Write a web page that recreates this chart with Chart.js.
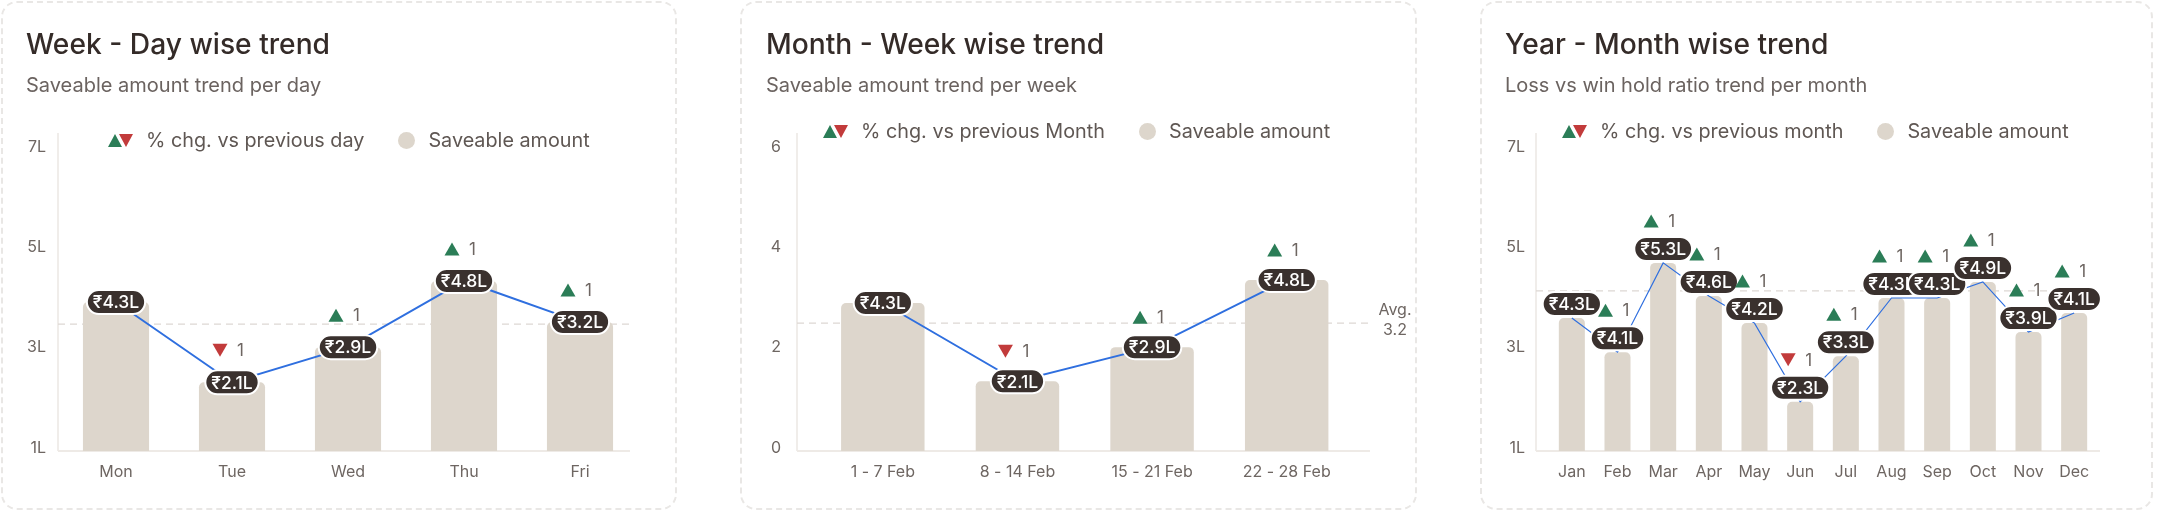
<!DOCTYPE html>
<html lang="en">
<head>
<meta charset="UTF-8">
<title>Saveable amount trends</title>
<script src="https://cdn.jsdelivr.net/npm/chart.js"></script>
<style>
    body {
        margin: 0;
        width: 2159px;
        height: 514px;
        position: relative;
        overflow: hidden;
        background: #fff;
        font-family: Inter, "Noto Sans", sans-serif;
    }

    /* dashed cards */
    .card {
        position: absolute;
        top: 1px;
        height: 509px;
        box-sizing: border-box;
        border: 2px dashed #e9e7e5;
        border-radius: 16px;
    }

    .title {
        position: absolute;
        top: 27px;
        font-size: 28.2px;
        font-weight: 500;
        line-height: 34px;
        color: #342b28;
        white-space: nowrap;
    }

    .subtitle {
        position: absolute;
        top: 73px;
        font-size: 20px;
        line-height: 24px;
        color: #6b6360;
        white-space: nowrap;
    }

    /* legend */
    .legend {
        position: absolute;
        display: flex;
        align-items: center;
        height: 24px;
        font-size: 19.8px;
        color: #5f5753;
        white-space: nowrap;
    }
    .tri { width: 0; height: 0; border-left: 7.5px solid transparent; border-right: 7.5px solid transparent; }
    .tri.up { border-bottom: 13px solid #2b7d57; }
    .tri.down { border-top: 13px solid #c23b3b; margin-left: -3px; }
    .legend .txt { margin-left: 13px; }
    .dot { width: 17px; height: 17px; border-radius: 50%; background: #ddd6cc; margin: 0 13px 0 34px; }

    .chart-box { position: absolute; top: 0; width: 680px; height: 514px; }
</style>
</head>
<body>

<div class="card" style="left:1px; width:676px;"></div>
<div class="card" style="left:740px; width:677px;"></div>
<div class="card" style="left:1480px; width:673px;"></div>

<div class="chart-box" style="left:0px;"><canvas id="weekChart" width="680" height="514"></canvas></div>
<div class="chart-box" style="left:740px;"><canvas id="monthChart" width="680" height="514"></canvas></div>
<div class="chart-box" style="left:1478px;"><canvas id="yearChart" width="680" height="514"></canvas></div>

<div class="title" style="left:26px;">Week - Day wise trend</div>
<div class="subtitle" style="left:26px;">Saveable amount trend per day</div>
<div class="legend" style="left:108px; top:128px;">
    <span class="tri up"></span><span class="tri down"></span>
    <span class="txt">% chg. vs previous day</span>
    <span class="dot"></span><span>Saveable amount</span>
</div>

<div class="title" style="left:766px;">Month - Week wise trend</div>
<div class="subtitle" style="left:766px;">Saveable amount trend per week</div>
<div class="legend" style="left:823px; top:119px;">
    <span class="tri up"></span><span class="tri down"></span>
    <span class="txt">% chg. vs previous Month</span>
    <span class="dot"></span><span>Saveable amount</span>
</div>

<div class="title" style="left:1505px;">Year - Month wise trend</div>
<div class="subtitle" style="left:1505px;">Loss vs win hold ratio trend per month</div>
<div class="legend" style="left:1562px; top:119px;">
    <span class="tri up"></span><span class="tri down"></span>
    <span class="txt">% chg. vs previous month</span>
    <span class="dot"></span><span>Saveable amount</span>
</div>

<script>
    // ---- week / day ----
    const weekDays = ['Mon', 'Tue', 'Wed', 'Thu', 'Fri'];
    const weekAmount = [3.97, 2.37, 3.07, 4.39, 3.57];
    const weekPill = ['₹4.3L', '₹2.1L', '₹2.9L', '₹4.8L', '₹3.2L'];
    const weekDir = [null, 'down', 'up', 'up', 'up'];
    const weekChange = [null, 1, 1, 1, 1];
    const weekAvg = 3.53;
    const weekTicks = ['1L', '3L', '5L', '7L'];

    // ---- month / week ----
    const monthWeeks = ['1 - 7 Feb', '8 - 14 Feb', '15 - 21 Feb', '22 - 28 Feb'];
    const monthAmount = [2.95, 1.39, 2.07, 3.41];
    const monthPill = ['₹4.3L', '₹2.1L', '₹2.9L', '₹4.8L'];
    const monthDir = [null, 'down', 'up', 'up'];
    const monthChange = [null, 1, 1, 1];
    const monthAvg = 2.55;
    const monthAvgText = ['Avg.', '3.2'];
    const monthTicks = ['0', '2', '4', '6'];

    // ---- year / month ----
    const yearMonths = ['Jan', 'Feb', 'Mar', 'Apr', 'May', 'Jun', 'Jul', 'Aug', 'Sep', 'Oct', 'Nov', 'Dec'];
    const yearAmount = [3.65, 2.97, 4.75, 4.09, 3.55, 1.98, 2.89, 4.05, 4.05, 4.37, 3.37, 3.75];
    const yearPill = ['₹4.3L', '₹4.1L', '₹5.3L', '₹4.6L', '₹4.2L', '₹2.3L', '₹3.3L', '₹4.3L', '₹4.3L', '₹4.9L', '₹3.9L', '₹4.1L'];
    const yearDir = [null, 'up', 'up', 'up', 'up', 'down', 'up', 'up', 'up', 'up', 'up', 'up'];
    const yearChange = [null, 1, 1, 1, 1, 1, 1, 1, 1, 1, 1, 1];
    const yearAvg = 4.19;
    const yearTicks = ['1L', '3L', '5L', '7L'];

    const FONT = 'Inter, "Noto Sans", sans-serif';
    const GREY = '#6e6662';

    // axis frame, average line, value pills and change markers
    const trendMarks = {
        id: 'trendMarks',
        beforeDatasetsDraw(chart, args, o) {
            const ctx = chart.ctx;
            const area = chart.chartArea;
            const y = chart.scales.y;
            ctx.save();
            ctx.strokeStyle = '#ebe7e3';
            ctx.lineWidth = 1.5;
            ctx.beginPath();
            ctx.moveTo(o.axisX, 133);
            ctx.lineTo(o.axisX, area.bottom);
            ctx.stroke();
            ctx.strokeStyle = '#eeeae6';
            ctx.lineWidth = 2;
            ctx.beginPath();
            ctx.moveTo(o.axisX, area.bottom);
            ctx.lineTo(o.lineRight, area.bottom);
            ctx.stroke();

            const ay = y.getPixelForValue(o.avg);
            ctx.strokeStyle = '#ddd8d3';
            ctx.lineWidth = 1.2;
            ctx.setLineDash([7, 5]);
            ctx.beginPath();
            ctx.moveTo(o.axisX, ay);
            ctx.lineTo(o.lineRight, ay);
            ctx.stroke();
            ctx.restore();
        },
        afterDatasetsDraw(chart, args, o) {
            const ctx = chart.ctx;
            const x = chart.scales.x;
            const y = chart.scales.y;
            const values = chart.data.datasets[0].data;
            ctx.save();
            values.forEach((v, i) => {
                const cx = x.getPixelForValue(i);
                const cy = y.getPixelForValue(v) - o.pillLift;

                // pill
                ctx.font = '500 17.5px ' + FONT;
                const w = ctx.measureText(o.pills[i]).width + 12;
                const h = 24;
                ctx.beginPath();
                ctx.roundRect(cx - w / 2, cy - h / 2, w, h, h / 2);
                ctx.fillStyle = '#3a312e';
                ctx.fill();
                ctx.lineWidth = 2;
                ctx.strokeStyle = '#ffffff';
                ctx.stroke();
                ctx.fillStyle = '#ffffff';
                ctx.textAlign = 'center';
                ctx.textBaseline = 'middle';
                ctx.fillText(o.pills[i], cx, cy + 1);

                // change marker
                const dir = o.dir[i];
                if (dir) {
                    const ty = cy - o.markGap;
                    const tx = cx - 12;
                    ctx.beginPath();
                    if (dir === 'up') {
                        ctx.moveTo(tx - 7.5, ty + 6.5);
                        ctx.lineTo(tx + 7.5, ty + 6.5);
                        ctx.lineTo(tx, ty - 6.5);
                        ctx.fillStyle = '#2b7d57';
                    } else {
                        ctx.moveTo(tx - 7.5, ty - 6.5);
                        ctx.lineTo(tx + 7.5, ty - 6.5);
                        ctx.lineTo(tx, ty + 6.5);
                        ctx.fillStyle = '#c23b3b';
                    }
                    ctx.closePath();
                    ctx.fill();
                    ctx.font = '17px ' + FONT;
                    ctx.fillStyle = GREY;
                    ctx.textAlign = 'left';
                    ctx.fillText(String(o.change[i]), cx + 5, ty + 1);
                }
            });

            if (o.avgText) {
                const ay = y.getPixelForValue(o.avg);
                ctx.font = '16px ' + FONT;
                ctx.fillStyle = GREY;
                ctx.textAlign = 'center';
                ctx.textBaseline = 'middle';
                ctx.fillText(o.avgText[0], o.avgTextX, ay - 13);
                ctx.fillText(o.avgText[1], o.avgTextX, ay + 7);
            }
            ctx.restore();
        }
    };

    function makeChart(id, s) {
        return new Chart(document.getElementById(id), {
            type: 'bar',
            data: {
                labels: s.labels,
                datasets: [{
                    type: 'bar',
                    label: 'Saveable amount',
                    data: s.values,
                    backgroundColor: '#ddd6cc',
                    borderRadius: { topLeft: 5, topRight: 5 },
                    borderSkipped: 'bottom',
                    categoryPercentage: 1,
                    barPercentage: s.barPct,
                    order: 2
                }, {
                    type: 'line',
                    label: 'trend',
                    data: s.values,
                    borderColor: '#2f6fdf',
                    borderWidth: s.lineW,
                    pointRadius: 0,
                    tension: 0,
                    order: 1
                }]
            },
            options: {
                responsive: false,
                animation: false,
                devicePixelRatio: 1,
                layout: { padding: { left: s.padLeft, right: s.padRight, top: 150, bottom: 23 } },
                plugins: {
                    legend: { display: false },
                    tooltip: { enabled: false },
                    trendMarks: s.marks
                },
                scales: {
                    x: {
                        grid: { display: false, drawTicks: false },
                        border: { display: false },
                        ticks: { padding: 12, color: GREY, font: { size: 16, family: FONT } },
                        afterFit(scale) { scale.height = 40; }
                    },
                    y: {
                        min: s.min,
                        max: s.max,
                        grid: { display: false, drawTicks: false },
                        border: { display: false },
                        ticks: {
                            stepSize: 2,
                            padding: s.tickPad,
                            labelOffset: -3,
                            color: GREY,
                            font: { size: 16, family: FONT },
                            callback: (v, i) => s.ticks[i]
                        },
                        afterFit(scale) { scale.width = s.axisW; }
                    }
                }
            },
            plugins: [trendMarks]
        });
    }

    makeChart('weekChart', {
        labels: weekDays, values: weekAmount, min: 1, max: 7, ticks: weekTicks,
        barPct: 0.57, lineW: 2, padLeft: 8, axisW: 50, padRight: 42, tickPad: 12,
        marks: { axisX: 58, lineRight: 630, avg: weekAvg, pills: weekPill, dir: weekDir, change: weekChange, pillLift: 0, markGap: 32 }
    });

    makeChart('monthChart', {
        labels: monthWeeks, values: monthAmount, min: 0, max: 6, ticks: monthTicks,
        barPct: 0.62, lineW: 2, padLeft: 5.5, axisW: 70, padRight: 66, tickPad: 34.5,
        marks: { axisX: 57, lineRight: 630, avg: monthAvg, pills: monthPill, dir: monthDir, change: monthChange, pillLift: 0, markGap: 30,
                 avgText: monthAvgText, avgTextX: 655 }
    });

    makeChart('yearChart', {
        labels: yearMonths, values: yearAmount, min: 1, max: 7, ticks: yearTicks,
        barPct: 0.57, lineW: 1.2, padLeft: 11, axisW: 60, padRight: 61, tickPad: 24,
        marks: { axisX: 58, lineRight: 622, avg: yearAvg, pills: yearPill, dir: yearDir, change: yearChange, pillLift: 14, markGap: 28 }
    });
</script>
</body>
</html>
